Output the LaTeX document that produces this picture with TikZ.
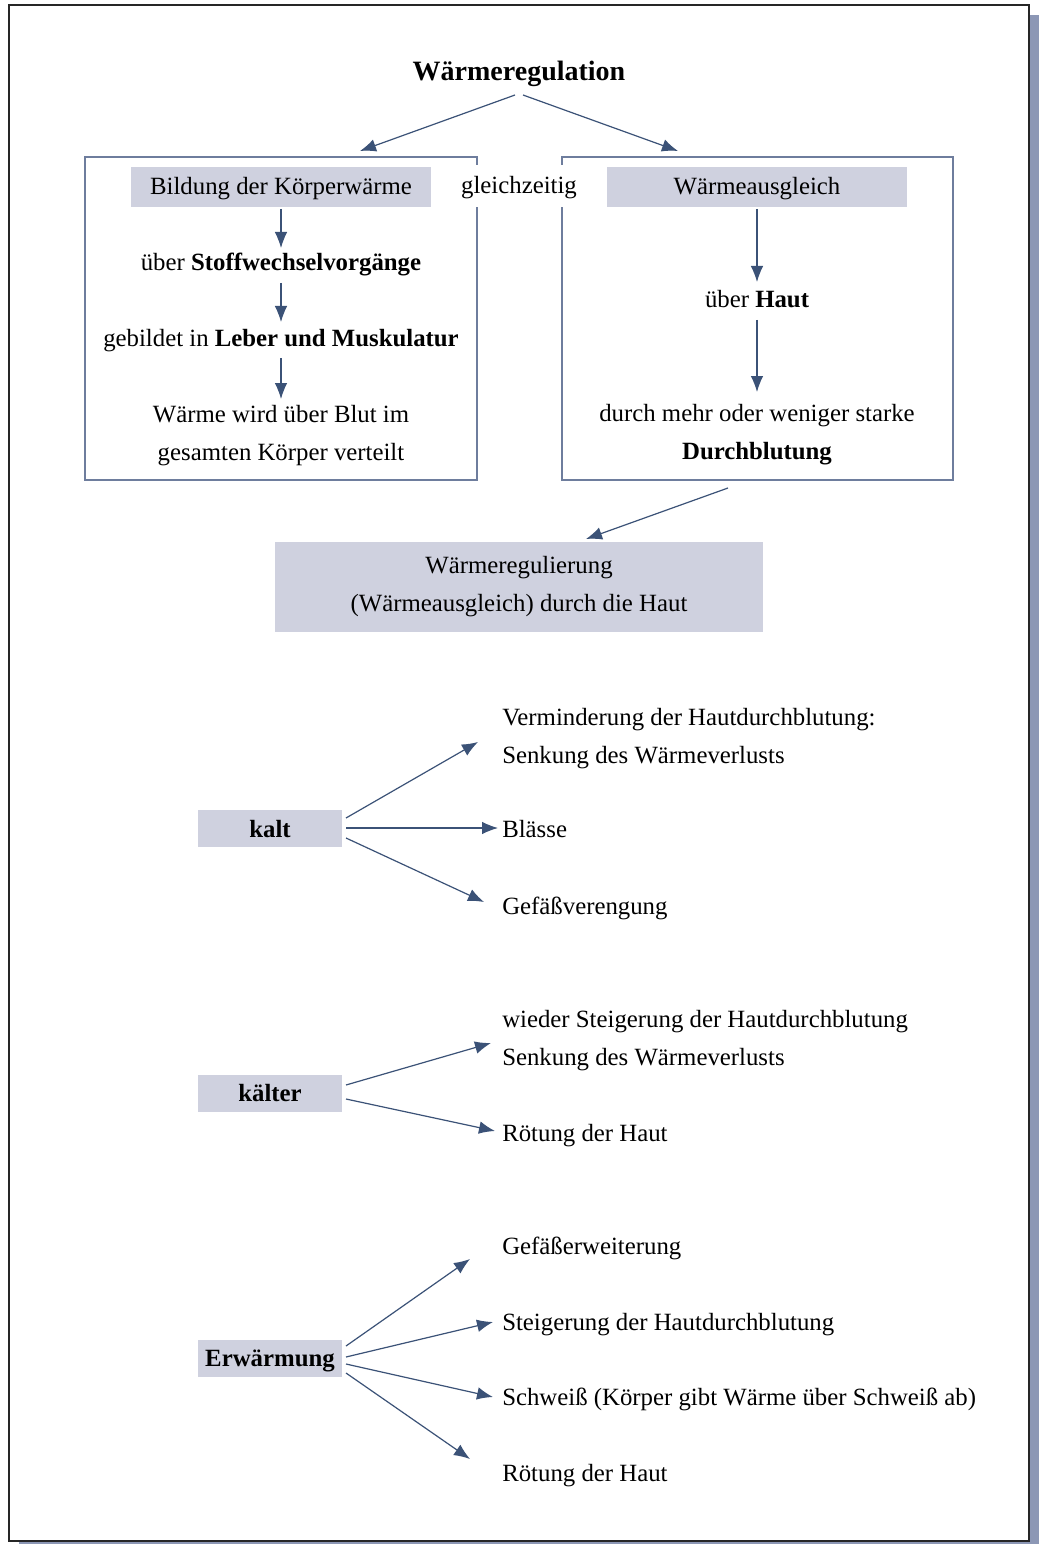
\documentclass[tikz,border=0pt]{standalone}
\usepackage{fontspec}
\setmainfont{Liberation Serif}
\usetikzlibrary{arrows.meta}
\definecolor{boxfill}{HTML}{CFD1DF}
\definecolor{bordercol}{HTML}{6E7D9D}
\definecolor{arrowcol}{HTML}{3B5277}
\definecolor{shadowcol}{HTML}{8C97B5}
\begin{document}
\begin{tikzpicture}[x=0.75pt,y=-0.75pt,
  body/.style={inner sep=0pt,font=\fontsize{18.6}{28.5}\selectfont},
  txt/.style={body,anchor=base},
  ltxt/.style={body,anchor=base west},
  mtxt/.style={body,yshift=-2pt},
  fillbox/.style={body,fill=boxfill,align=center},
  boldbox/.style={fillbox,font=\fontsize{18.6}{28.5}\selectfont\bfseries,minimum width=108pt,minimum height=27.75pt},
  framebox/.style={draw=bordercol,line width=1.1pt,inner sep=0pt},
  arr/.style={draw=arrowcol,line width=0.9pt,-{Latex[length=12pt,width=9.5pt]}}]
\useasboundingbox (0,0) rectangle (1039,1544);
% page shadow and frame
\fill[shadowcol] (1030,15) rectangle (1039,1544);
\fill[shadowcol] (19,1541) rectangle (1039,1544);
\draw[black!85,line width=1.1pt,fill=white] (9,5) rectangle (1029,1541);

% title
\node[body,anchor=base,font=\fontsize{21}{26}\selectfont\bfseries] (title) at (519,81) {Wärmeregulation};
\coordinate (t1) at (515,95);
\coordinate (t2) at (523,95);
\coordinate (l0) at (360,151);
\coordinate (r0) at (678,151);
\draw[arr] (t1) -- (l0);
\draw[arr] (t2) -- (r0);

% two frames
\node[framebox,minimum width=294pt,minimum height=242.25pt] (L) at (281,318.5) {};
\node[framebox,minimum width=293.25pt,minimum height=242.25pt] (R) at (757.5,318.5) {};
\node[body,fill=white,minimum height=31.5pt,inner xsep=2pt,text height=16.1pt,text depth=4.1pt] (gl) at (519,186) {gleichzeitig};

% left column
\node[fillbox,minimum width=225pt,minimum height=30pt,text height=16.1pt,text depth=4.1pt] (bk) at (281,187) {Bildung der Körperwärme};
\node[txt] (sw) at (281,271) {über \textbf{Stoffwechselvorgänge}};
\node[txt] (lm) at (281,346) {gebildet in \textbf{Leber und Muskulatur}};
\node[mtxt,align=center] (wb) at (281,432.5) {Wärme wird über Blut im\\gesamten Körper verteilt};
\coordinate (a1s) at (281,209); \coordinate (a1e) at (281,248);
\coordinate (a2s) at (281,283); \coordinate (a2e) at (281,322);
\coordinate (a3s) at (281,358); \coordinate (a3e) at (281,399);
\draw[arr] (a1s) -- (a1e);
\draw[arr] (a2s) -- (a2e);
\draw[arr] (a3s) -- (a3e);

% right column
\node[fillbox,minimum width=225pt,minimum height=30pt,text height=16.1pt,text depth=4.1pt] (wa) at (757,187) {Wärmeausgleich};
\node[txt] (ha) at (757,308) {über \textbf{Haut}};
\node[mtxt,align=center] (db) at (757,432) {durch mehr oder weniger starke\\\textbf{Durchblutung}};
\coordinate (b1s) at (757,209); \coordinate (b1e) at (757,282);
\coordinate (b2s) at (757,320); \coordinate (b2e) at (757,392);
\draw[arr] (b1s) -- (b1e);
\draw[arr] (b2s) -- (b2e);

% Waermeregulierung
\coordinate (c1s) at (728,488); \coordinate (c1e) at (586,539);
\draw[arr] (c1s) -- (c1e);
\node[fillbox,minimum width=366pt,minimum height=67.5pt] (wr) at (519,587) {Wärmeregulierung\\(Wärmeausgleich) durch die Haut};

% kalt
\node[boldbox,minimum height=28pt,text height=12.75pt,text depth=0pt] (kalt) at (270,828.5) {kalt};
\node[mtxt,anchor=west,align=left] (k1) at (502,735.5) {Verminderung der Hautdurchblutung:\\Senkung des Wärmeverlusts};
\node[ltxt] (k2) at (502,837) {Blässe};
\node[ltxt] (k3) at (502,914) {Gefäßverengung};
\coordinate (k1s) at (346,818); \coordinate (k1e) at (478,742);
\coordinate (k2s) at (346,828); \coordinate (k2e) at (498,828);
\coordinate (k3s) at (346,838); \coordinate (k3e) at (484,902);
\draw[arr] (k1s) -- (k1e);
\draw[arr] (k2s) -- (k2e);
\draw[arr] (k3s) -- (k3e);

% kaelter
\node[boldbox,text height=12pt,text depth=0pt] (kaelter) at (270,1093) {kälter};
\node[mtxt,anchor=west,align=left] (m1) at (502,1038) {wieder Steigerung der Hautdurchblutung\\Senkung des Wärmeverlusts};
\node[ltxt] (m2) at (502,1141) {Rötung der Haut};
\coordinate (m1s) at (346,1085); \coordinate (m1e) at (491,1043);
\coordinate (m2s) at (346,1099); \coordinate (m2e) at (495,1131);
\draw[arr] (m1s) -- (m1e);
\draw[arr] (m2s) -- (m2e);

% Erwaermung
\node[boldbox,text height=15.35pt,text depth=4.1pt] (erw) at (270,1358.5) {Erwärmung};
\node[ltxt] (e1) at (502,1254) {Gefäßerweiterung};
\node[ltxt] (e2) at (502,1330) {Steigerung der Hautdurchblutung};
\node[ltxt] (e3) at (502,1405) {Schweiß (Körper gibt Wärme über Schweiß ab)};
\node[ltxt] (e4) at (502,1481) {Rötung der Haut};
\coordinate (e1s) at (346,1346); \coordinate (e1e) at (470,1259);
\coordinate (e2s) at (346,1357); \coordinate (e2e) at (493,1322);
\coordinate (e3s) at (346,1364); \coordinate (e3e) at (493,1397);
\coordinate (e4s) at (346,1373); \coordinate (e4e) at (470,1459);
\draw[arr] (e1s) -- (e1e);
\draw[arr] (e2s) -- (e2e);
\draw[arr] (e3s) -- (e3e);
\draw[arr] (e4s) -- (e4e);
\end{tikzpicture}
\end{document}
